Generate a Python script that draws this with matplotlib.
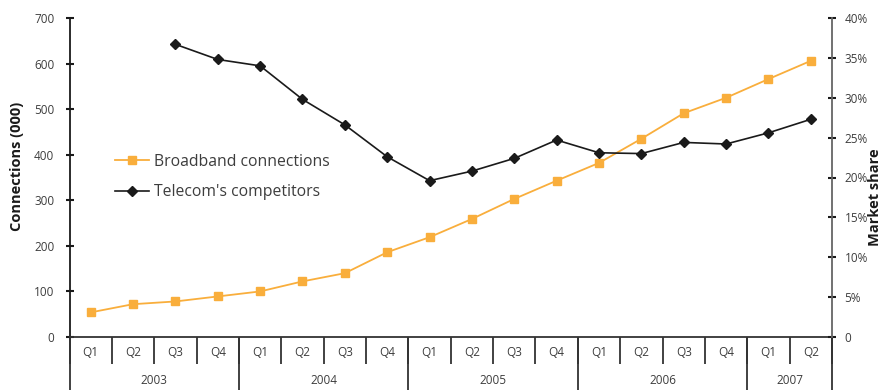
import matplotlib
matplotlib.use("Agg")
import matplotlib.pyplot as plt
from matplotlib.ticker import FixedLocator, NullFormatter
import numpy as np

plt.rcParams['font.family'] = ['Open Sans', 'DejaVu Sans']

quarters = ["Q1", "Q2", "Q3", "Q4"] * 4 + ["Q1", "Q2"]
years = ["2003", "2004", "2005", "2006", "2007"]
year_counts = [4, 4, 4, 4, 2]

broadband = [54, 72, 78, 89, 100, 122, 140, 186, 219, 259, 303, 343, 382, 435, 491, 525, 566, 606]
competitors = [None, None, 36.7, 34.8, 34.0, 29.8, 26.6, 22.6, 19.6, 20.8, 22.4, 24.7,
               23.1, 23.0, 24.4, 24.2, 25.6, 27.3]

left_ticks = [0, 100, 200, 300, 400, 500, 600, 700]
right_ticks = [0, 5, 10, 15, 20, 25, 30, 35, 40]
right_labels = ["0", "5%", "10%", "15%", "20%", "25%", "30%", "35%", "40%"]

orange = "#F9AE3C"
dark = "#1a1a1a"
txt = "#3d3d3d"

W, H = 883, 390
fig = plt.figure(figsize=(W / 100, H / 100), dpi=100)
x0, x1, y0, y1 = 69.5, 832, 337, 18
ax = fig.add_axes([x0 / W, (H - y0) / H, (x1 - x0) / W, (y0 - y1) / H])
ax2 = ax.twinx()

n = len(quarters)
x = np.arange(n)

l1, = ax.plot(x, broadband, color=orange, lw=1.3, marker="s", ms=5.3, mec=orange, mfc=orange,
              label="Broadband connections", zorder=3)
comp = np.array([np.nan if v is None else v for v in competitors], dtype=float)
l2, = ax2.plot(x, comp, color=dark, lw=1.2, marker="D", ms=5.3, mec=dark, mfc=dark,
               label="Telecom's competitors", zorder=3)

ax.set_xlim(-0.5, n - 0.5)
ax.set_ylim(0, 700)
ax2.set_ylim(0, 40)

for a in (ax, ax2):
    a.spines['top'].set_visible(False)
    a.patch.set_visible(False)
ax2.spines['left'].set_visible(False)
ax2.spines['bottom'].set_visible(False)
ax.spines['right'].set_visible(False)
ax.spines['left'].set_color(dark)
ax.spines['left'].set_linewidth(1.3)
ax.spines['bottom'].set_color("#333333")
ax.spines['bottom'].set_linewidth(1.3)
ax2.spines['right'].set_color("#666666")
ax2.spines['right'].set_linewidth(1.3)

ax.set_yticks(left_ticks)
ax.set_yticklabels([str(t) for t in left_ticks])
ax.tick_params(axis='y', direction='inout', length=6, width=1.5, color=dark,
               labelsize=8.5, labelcolor=txt, pad=8)
ax2.set_yticks(right_ticks)
ax2.set_yticklabels(right_labels)
ax2.tick_params(axis='y', direction='inout', length=6, width=1.5, color=dark,
                labelsize=8.5, labelcolor=txt, pad=6)

# quarter labels
ax.set_xticks(x)
ax.set_xticklabels(quarters)
ax.xaxis.set_minor_locator(FixedLocator(np.arange(n + 1) - 0.5))
ax.tick_params(axis='x', which='major', length=0, labelsize=8.5, labelcolor=txt, pad=6.5)
ax.tick_params(axis='x', which='minor', length=19.5, width=1.3, color="#333333", direction='out')

# year labels
bounds = np.concatenate([[0], np.cumsum(year_counts)]) - 0.5
centers = (bounds[:-1] + bounds[1:]) / 2
sec = ax.secondary_xaxis(location=0)
sec.spines['bottom'].set_visible(False)
sec.set_xticks(centers)
sec.set_xticklabels(years)
sec.xaxis.set_minor_locator(FixedLocator(bounds))
sec.xaxis.set_minor_formatter(NullFormatter())
sec.tick_params(axis='x', which='major', length=0, labelsize=8.5, labelcolor=txt, pad=26.5)
sec.tick_params(axis='x', which='minor', length=40, width=1.3, color="#333333", direction='out')

fig.text(17 / W, 1 - 166 / H, "Connections (000)", rotation=90, ha='center', va='center',
         fontsize=10.5, fontweight='bold', color=dark)
fig.text(875 / W, 1 - 197 / H, "Market share", rotation=90, ha='center', va='center',
         fontsize=10.5, fontweight='bold', color=dark)

leg = ax.legend(handles=[l1, l2], loc='center left', bbox_to_anchor=(101 / W, 1 - 177 / H),
                bbox_transform=fig.transFigure, frameon=False, fontsize=11.3, handlelength=2.15,
                handletextpad=0.35, labelspacing=0.95, labelcolor=txt)

fig.savefig("out.png", dpi=100)
